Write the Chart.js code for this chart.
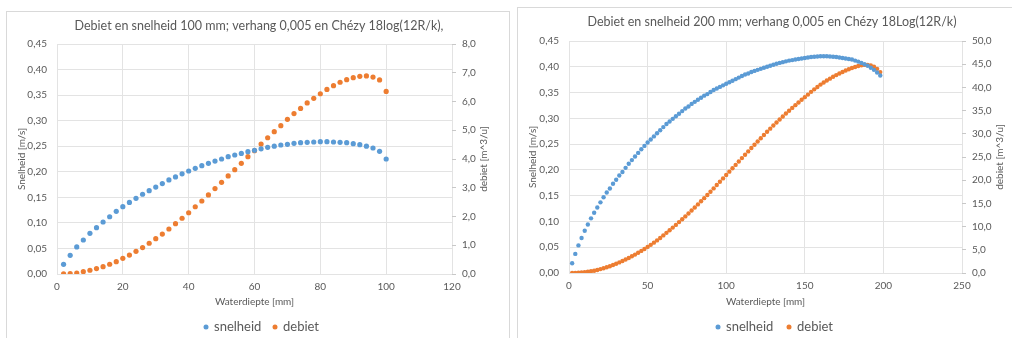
<!DOCTYPE html>
<html>
<head>
<meta charset="utf-8">
<script src="https://cdn.jsdelivr.net/npm/chart.js@4.4.1/dist/chart.umd.min.js"></script>
<style>
  html, body { margin: 0; padding: 0; background: #fff; width: 1012px; height: 338px; overflow: hidden; }
  .panel { position: absolute; border: 1px solid #d9d9d9; background: #fff; box-sizing: border-box; }
  canvas { position: absolute; }
</style>
</head>
<body>
<div class="panel" style="left:6px;top:11px;width:504px;height:340px"></div>
<div class="panel" style="left:517px;top:7px;width:510px;height:340px"></div>
<canvas id="c100" style="left:7px;top:12px" width="501" height="326"></canvas>
<canvas id="c200" style="left:518px;top:8px" width="493" height="330"></canvas>
<script>
// Pipe 100 mm: water depth [mm], velocity [m/s], discharge [m^3/u]
const depth100 = [2,4,6,8,10,12,14,16,18,20,22,24,26,28,30,32,34,36,38,40,42,44,46,48,50,
  52,54,56,58,60,62,64,66,68,70,72,74,76,78,80,82,84,86,88,90,92,94,96,98,100];
const snelheid100 = [0.019,0.0365,0.053,0.0665,0.0796,0.0907,0.1017,0.112,0.1226,0.1317,
  0.140,0.148,0.156,0.163,0.170,0.177,0.184,0.190,0.196,0.2015,
  0.2067,0.212,0.2165,0.221,0.225,0.2296,0.2328,0.236,0.2393,0.242,
  0.245,0.2478,0.250,0.2524,0.2537,0.2557,0.257,0.2576,0.2583,0.2589,
  0.2589,0.2583,0.2576,0.257,0.255,0.253,0.250,0.2465,0.240,0.225];
const debiet100 = [0.003,0.01,0.035,0.08,0.13,0.19,0.255,0.34,0.43,0.545,
  0.66,0.79,0.92,1.07,1.23,1.39,1.565,1.75,1.94,2.13,
  2.34,2.54,2.75,2.97,3.19,3.41,3.63,3.85,4.08,4.29,
  4.52,4.74,4.95,5.16,5.38,5.58,5.76,5.95,6.11,6.27,
  6.42,6.55,6.67,6.76,6.83,6.875,6.89,6.85,6.75,6.35];

// Pipe 200 mm
const depth200 = [2,4,6,8,10,12,14,16,18,20,22,24,26,28,30,32,34,36,38,40,
  42,44,46,48,50,52,54,56,58,60,62,64,66,68,70,72,74,76,78,80,
  82,84,86,88,90,92,94,96,98,100,102,104,106,108,110,112,114,116,118,120,
  122,124,126,128,130,132,134,136,138,140,142,144,146,148,150,152,154,156,158,160,
  162,164,166,168,170,172,174,176,178,180,182,184,186,188,190,192,194,196,198];
const snelheid200 = [0.019,0.037,0.0535,0.068,0.082,0.094,0.106,0.117,0.127,0.137,
  0.147,0.156,0.164,0.173,0.181,0.189,0.196,0.204,0.212,0.219,
  0.226,0.233,0.240,0.2465,0.253,0.259,0.265,0.271,0.277,0.283,
  0.289,0.294,0.299,0.304,0.309,0.314,0.319,0.323,0.328,0.332,
  0.336,0.340,0.344,0.347,0.351,0.355,0.358,0.361,0.364,0.367,
  0.370,0.373,0.376,0.379,0.382,0.385,0.387,0.390,0.392,0.394,
  0.396,0.398,0.400,0.402,0.404,0.406,0.4075,0.409,0.4105,0.412,
  0.413,0.414,0.415,0.416,0.417,0.418,0.419,0.4195,0.420,0.4203,
  0.4205,0.4203,0.420,0.4195,0.419,0.418,0.417,0.416,0.415,0.414,
  0.412,0.410,0.4075,0.405,0.402,0.398,0.394,0.389,0.383];
const debiet200 = [0.01,0.03,0.07,0.12,0.18,0.27,0.38,0.5,0.66,0.84,
  1.03,1.24,1.47,1.72,1.99,2.28,2.58,2.9,3.24,3.6,
  3.97,4.36,4.76,5.18,5.62,6.07,6.54,7.03,7.53,8.1,
  8.65,9.2,9.78,10.37,10.97,11.58,12.2,12.83,13.47,14.12,
  14.78,15.45,16.13,16.82,17.52,18.23,18.95,19.67,20.39,21.11,
  21.84,22.57,23.3,24.03,24.76,25.49,26.21,26.93,27.64,28.34,
  29.04,29.74,30.43,31.11,31.78,32.44,33.09,33.73,34.36,34.98,
  35.58,36.17,36.75,37.35,37.9,38.45,39.04,39.58,40.1,40.6,
  41.05,41.48,41.89,42.28,42.65,43.0,43.33,43.64,43.92,44.18,
  44.41,44.6,44.75,44.85,44.85,44.72,44.45,44.0,43.3];

const seriesNames = ['snelheid', 'debiet'];
const xTitle = 'Waterdiepte [mm]';
const yTitle = 'Snelheid [m/s]';
const y1Title = 'debiet [m^3/u]';

const BLUE = '#5B9BD5';
const ORANGE = '#ED7D31';
const TEXT = '#595959';
const GRID = '#e3e3e3';
const FONT = 'Lato, "Open Sans", sans-serif';

const comma = (v, d) => Number(v).toFixed(d).replace('.', ',');
const pairs = (xs, ys) => xs.map((x, i) => ({ x, y: ys[i] }));

// Title, axis titles and legend drawn at fixed spots on the canvas
function decorations(o) {
  return {
    id: 'decorations',
    afterDraw(chart) {
      const ctx = chart.ctx, a = chart.chartArea;
      ctx.save();
      ctx.fillStyle = TEXT;
      ctx.textBaseline = 'middle';
      ctx.textAlign = 'center';
      ctx.font = '12.5px ' + FONT;
      ctx.fillText(o.title, o.titleX, o.titleY);
      ctx.font = '10px ' + FONT;
      ctx.fillText(xTitle, (a.left + a.right) / 2, o.xTitleY);
      const midY = (a.top + a.bottom) / 2;
      [[yTitle, o.yTitleX], [y1Title, o.y1TitleX]].forEach(([t, x]) => {
        ctx.save();
        ctx.translate(x, midY);
        ctx.rotate(-Math.PI / 2);
        ctx.fillText(t, 0, 0);
        ctx.restore();
      });
      // legend
      ctx.font = '13px ' + FONT;
      ctx.textAlign = 'left';
      const colors = [BLUE, ORANGE];
      o.legendX.forEach((lx, i) => {
        ctx.fillStyle = colors[i];
        ctx.beginPath();
        ctx.arc(lx, o.legendY, 2.5, 0, Math.PI * 2);
        ctx.fill();
        ctx.fillStyle = TEXT;
        ctx.fillText(seriesNames[i], lx + 8, o.legendY);
      });
      ctx.restore();
    }
  };
}

function makeChart(id, cfg) {
  const ds = (label, data, color, axis) => ({
    label, data, yAxisID: axis,
    backgroundColor: color, borderColor: color,
    pointRadius: cfg.r, pointHoverRadius: cfg.r, borderWidth: 0, showLine: false
  });
  return new Chart(document.getElementById(id), {
    type: 'scatter',
    data: {
      datasets: [
        ds(seriesNames[0], pairs(cfg.depth, cfg.v), BLUE, 'y'),
        ds(seriesNames[1], pairs(cfg.depth, cfg.q), ORANGE, 'y1')
      ]
    },
    options: {
      responsive: false,
      animation: false,
      events: [],
      layout: { padding: { left: 0, right: 0, top: cfg.top, bottom: 0 } },
      plugins: { legend: { display: false }, title: { display: false }, tooltip: { enabled: false } },
      scales: {
        x: {
          type: 'linear', min: 0, max: cfg.xMax,
          ticks: { stepSize: cfg.xStep, color: TEXT, font: { family: FONT, size: 10 }, padding: 7, maxRotation: 0 },
          grid: { color: GRID, drawTicks: false },
          border: { display: false },
          afterFit: s => { s.height = cfg.xH; }
        },
        y: {
          position: 'left', min: 0, max: 0.45,
          ticks: { stepSize: 0.05, color: TEXT, font: { family: FONT, size: 10 }, padding: 10,
                   callback: v => comma(v, 2) },
          grid: { color: GRID, drawTicks: false },
          border: { display: false },
          afterFit: s => { s.width = cfg.yW; }
        },
        y1: {
          position: 'right', min: 0, max: cfg.qMax,
          ticks: { stepSize: cfg.qStep, color: TEXT, font: { family: FONT, size: 10 }, padding: 6,
                   callback: v => comma(v, 1) },
          grid: { drawOnChartArea: false, drawTicks: true, tickLength: 4, color: '#c8c8c8' },
          border: { display: false },
          afterFit: s => { s.width = cfg.y1W; }
        }
      }
    },
    plugins: [decorations(cfg.deco)]
  });
}

makeChart('c100', {
  depth: depth100, v: snelheid100, q: debiet100, r: 2.6,
  xMax: 120, xStep: 20, qMax: 8, qStep: 1,
  top: 32, yW: 50, y1W: 56, xH: 64,
  deco: {
    title: 'Debiet en snelheid 100 mm; verhang 0,005 en Chézy 18log(12R/k),',
    titleX: 252, titleY: 14, xTitleY: 290, yTitleX: 15, y1TitleX: 477,
    legendY: 315, legendX: [199, 268]
  }
});

makeChart('c200', {
  depth: depth200, v: snelheid200, q: debiet200, r: 2.2,
  xMax: 250, xStep: 50, qMax: 50, qStep: 5,
  top: 33, yW: 51, y1W: 49, xH: 65,
  deco: {
    title: 'Debiet en snelheid 200 mm; verhang 0,005 en Chézy 18Log(12R/k)',
    titleX: 254, titleY: 14, xTitleY: 294, yTitleX: 15, y1TitleX: 482,
    legendY: 319, legendX: [200, 271]
  }
});
</script>
</body>
</html>
